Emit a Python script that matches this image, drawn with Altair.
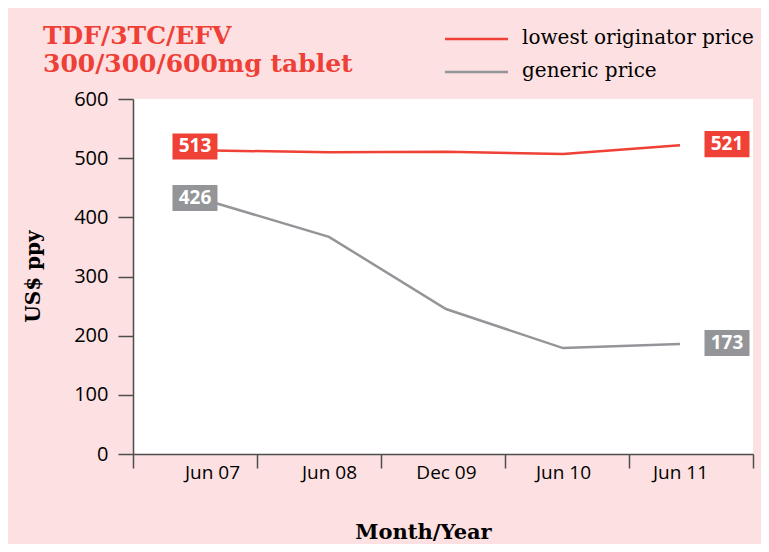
import altair as alt
import pandas as pd

MONTHS = ["Jun 07", "Jun 08", "Dec 09", "Jun 10", "Jun 11"]
SERIES = ["lowest originator price", "generic price"]
ORIGINATOR = [513, 510, 511, 507, 522]
GENERIC = [426, 367, 245, 179, 186]
FIRST_LABELS = ["513", "426"]
LAST_LABELS = ["521", "173"]
Y_TICKS = [0, 100, 200, 300, 400, 500, 600]
COLORS = ["#ef4136", "#939598"]
TITLE = "TDF/3TC/EFV\n300/300/600mg tablet"

rows = []
for i, m in enumerate(MONTHS):
    rows.append({"series": SERIES[0], "idx": i, "month": m, "value": ORIGINATOR[i]})
    rows.append({"series": SERIES[1], "idx": i, "month": m, "value": GENERIC[i]})
df = pd.DataFrame(rows)

first = pd.DataFrame({"series": SERIES, "idx": [0, 0],
                      "value": [ORIGINATOR[0], GENERIC[0]], "label": FIRST_LABELS})
last = pd.DataFrame({"series": SERIES, "idx": [len(MONTHS) - 1] * 2,
                     "value": [ORIGINATOR[-1], GENERIC[-1]], "label": LAST_LABELS})
title_df = pd.DataFrame({"title": [TITLE]})
legend_df = pd.DataFrame({"series": SERIES})

# x layout: category points sit off-centre of the tick bands (as in the original)
LO, HI = -0.675, 4.624
bounds = [LO + k * (HI - LO) / 5 for k in range(6)]
tick_vals = sorted(bounds + list(range(len(MONTHS))))
label_expr = ("datum.value === round(datum.value) && datum.value >= 0 ? "
              + str(MONTHS) + "[datum.value] : ''")

PINK = "#fde0e1"
AXIS_C = "#4d4d4d"
color_scale = alt.Scale(domain=SERIES, range=COLORS)

x_enc = alt.X("idx:Q", scale=alt.Scale(domain=[LO, HI], nice=False, zero=False),
              axis=alt.Axis(values=tick_vals, labelExpr=label_expr, grid=False,
                            tickOpacity={"condition": {"test": "datum.value !== round(datum.value)", "value": 1}, "value": 0},
                            tickSize=14, tickWidth=1.5, tickColor=AXIS_C,
                            domainColor=AXIS_C, domainWidth=1.5,
                            labelPadding=-5, labelFlush=False, labelOverlap=False,
                            labelFont="Open Sans", labelFontSize=19, labelColor="black",
                            title="Month/Year", titleFont="DejaVu Serif", titleFontWeight="bold",
                            titleFontSize=21, titleColor="black", titleX=290, titleY=84,
                            titleBaseline="alphabetic", titleAlign="center"))
y_enc = alt.Y("value:Q", scale=alt.Scale(domain=[0, 600], nice=False),
              axis=alt.Axis(values=Y_TICKS, grid=False, tickSize=15, tickWidth=1.5,
                            tickColor=AXIS_C, domainColor=AXIS_C, domainWidth=1.5,
                            labelPadding=10, labelFont="Open Sans", labelFontSize=20,
                            labelColor="black",
                            title="US$ ppy", titleFont="DejaVu Serif", titleFontWeight="bold",
                            titleFontSize=20, titleColor="black", titleAngle=270,
                            titleX=-94, titleY=177, titleBaseline="alphabetic",
                            titleAlign="center"))

lines = alt.Chart(df).mark_line(strokeWidth=2.5).encode(
    x=x_enc, y=y_enc,
    color=alt.Color("series:N", scale=color_scale, legend=None),
)

BOX = "M-1,-0.58L1,-0.58L1,0.58L-1,0.58Z"


def box_layer(data, xoff, yoff):
    fill = alt.Fill("series:N", scale=color_scale, legend=None)
    boxes = alt.Chart(data).mark_point(shape=BOX, size=2025, filled=True, opacity=1,
                                       strokeWidth=0, xOffset=xoff, yOffset=yoff).encode(
        x="idx:Q", y="value:Q", fill=fill)
    texts = alt.Chart(data).mark_text(color="white", font="Open Sans", fontWeight="bold",
                                      fontSize=19, dx=xoff, dy=yoff, baseline="middle",
                                      align="center").encode(
        x="idx:Q", y="value:Q", text="label:N")
    return boxes + texts


title = alt.Chart(title_df).mark_text(
    font="DejaVu Serif", fontSize=25, fontWeight="bold", color="#ee4036",
    align="left", baseline="alphabetic", lineBreak="\n", lineHeight=28,
).encode(x=alt.value(-90), y=alt.value(-55), text="title:N")

# legend (drawn as marks so the row spacing matches the original)
leg_y = alt.Y("series:N", scale=alt.Scale(type="point", domain=SERIES, range=[-60, -27],
                                          padding=0), axis=None)
leg_lines = alt.Chart(legend_df).mark_rule(strokeWidth=2.5).encode(
    x=alt.value(312), x2=alt.value(375), y=leg_y,
    color=alt.Color("series:N", scale=color_scale, legend=None))
leg_text = alt.Chart(legend_df).mark_text(
    font="DejaVu Serif", fontSize=20, color="black", align="left", baseline="middle", dy=-1,
).encode(x=alt.value(389), y=leg_y, text="series:N")
legend = alt.layer(leg_lines, leg_text)

chart = alt.layer(
    alt.layer(lines, box_layer(first, -17, -4), box_layer(last, 47, -1), title),
    legend,
).resolve_scale(y="independent").properties(
    width=620, height=355,
    autosize=alt.AutoSizeParams(type="none"),
    padding={"left": 125, "top": 91, "right": 8, "bottom": 90},
    background=PINK,
).configure_view(fill="white", stroke=None)

chart.save("out.html", embed_options={"renderer": "svg", "actions": False})
